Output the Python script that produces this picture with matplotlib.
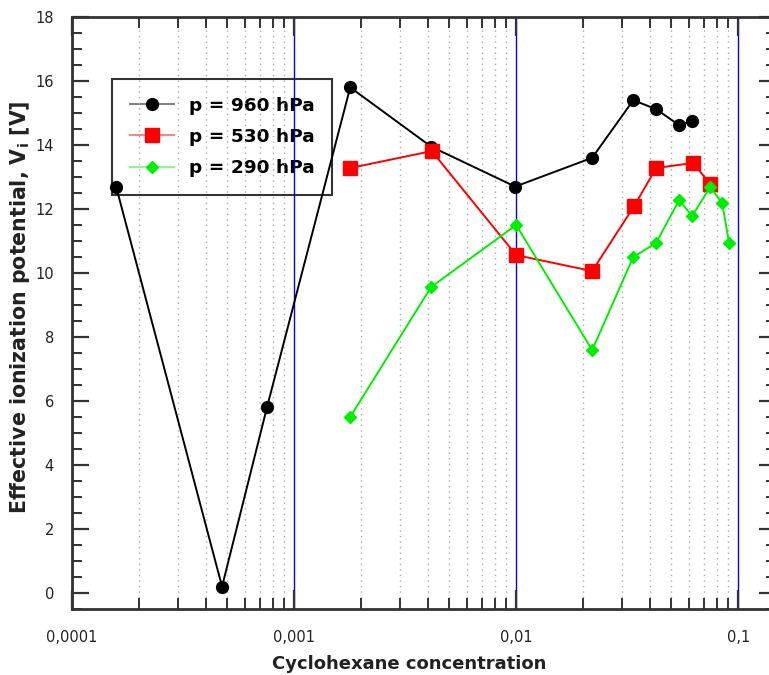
import numpy as np
import matplotlib
matplotlib.use("Agg")
import matplotlib.pyplot as plt
from matplotlib.ticker import FixedLocator, MultipleLocator, LogLocator, NullFormatter

# data
x_960 = [1.58e-4, 4.74e-4, 7.55e-4, 1.79e-3, 4.14e-3, 9.9e-3, 0.0220, 0.0337, 0.0427, 0.0542, 0.0621]
v_960 = [12.7, 0.2, 5.8, 15.8, 13.95, 12.7, 13.6, 15.4, 15.12, 14.62, 14.75]

x_530 = [1.79e-3, 4.17e-3, 0.0100, 0.0220, 0.0340, 0.0427, 0.0627, 0.0748]
v_530 = [13.28, 13.81, 10.56, 10.06, 12.09, 13.28, 13.44, 12.78]

x_290 = [1.79e-3, 4.14e-3, 0.0100, 0.0220, 0.0337, 0.0427, 0.0542, 0.0620, 0.0748, 0.0847, 0.0910]
v_290 = [5.5, 9.56, 11.5, 7.59, 10.5, 10.94, 12.28, 11.78, 12.69, 12.19, 10.94]

series_labels = ["p = 960 hPa", "p = 530 hPa", "p = 290 hPa"]
x_ticks = [1e-4, 1e-3, 1e-2, 1e-1]
x_tick_labels = ["0,0001", "0,001", "0,01", "0,1"]

plt.rcParams['font.family'] = ['DejaVu Sans']

fig = plt.figure(figsize=(7.69, 6.75), dpi=100)
ax = fig.add_axes([72/769, 66/675, 704/769, 592/675])

ax.plot(x_960, v_960, 'o-', color='black', lw=1.4, ms=8.5, label=series_labels[0], zorder=3)
ax.plot(x_530, v_530, 's-', color='#ff0000', lw=1.4, ms=9.5, label=series_labels[1], zorder=3)
ax.plot(x_290, v_290, 'D-', color='#00ee00', lw=1.4, ms=6.5, label=series_labels[2], zorder=3)

ax.set_xscale('log')
ax.set_xlim(1e-4, 0.148)
ax.set_ylim(-0.5, 18)

ax.xaxis.set_major_locator(FixedLocator(x_ticks))
ax.set_xticklabels(x_tick_labels)
ax.xaxis.set_minor_locator(LogLocator(base=10, subs=np.arange(2, 10)))
ax.xaxis.set_minor_formatter(NullFormatter())
ax.yaxis.set_major_locator(MultipleLocator(2))
ax.yaxis.set_minor_locator(MultipleLocator(0.5))
ax.set_yticks(np.arange(0, 19, 2))

ax.set_axisbelow('line')
ax.grid(which='major', axis='x', color='#0000ff', lw=1.0, ls='-')
ax.grid(which='minor', axis='x', color='#aaaaaa', lw=1.0, ls=(0, (1, 3)))

for s in ax.spines.values():
    s.set_linewidth(2)
    s.set_color('#333333')

ax.tick_params(which='both', direction='in', top=True, right=True, color='#333333', labelcolor='#222222', labelsize=10.5)
ax.tick_params(axis='x', which='major', length=14, width=1.6, pad=15)
ax.tick_params(axis='x', which='minor', length=8, width=1.4)
ax.tick_params(axis='y', which='major', length=12, width=1.6, pad=13)
ax.tick_params(axis='y', which='minor', length=7, width=1.4)

ax.set_xlabel('Cyclohexane concentration', fontsize=13, fontweight='bold', color='#222222')
ax.set_ylabel(r'Effective ionization potential, V$_\mathbf{i}$ [V]', fontsize=14.8, fontweight='bold', color='#222222')
ax.xaxis.set_label_coords(0.479, -0.077)
ax.yaxis.set_label_coords(-0.057, 0.509)

leg = ax.legend(loc='upper left', bbox_to_anchor=(40/704, 530/592), borderaxespad=0,
                fancybox=False, facecolor='none', edgecolor='black',
                prop={'size': 13.3, 'weight': 'bold'}, handlelength=2.4, handletextpad=0.8,
                labelspacing=0.72, borderpad=0.95)
leg.get_frame().set_linewidth(1.5)
leg.set_zorder(1)
# legend lines look paler than the markers
for h, pale, solid in zip(leg.get_lines(), ['#808080', '#ff8080', '#80ff80'], ['black', '#ff0000', '#00ee00']):
    h.set_color(pale)
    h.set_markerfacecolor(solid)
    h.set_markeredgecolor(solid)

fig.savefig('out.png', dpi=100)
